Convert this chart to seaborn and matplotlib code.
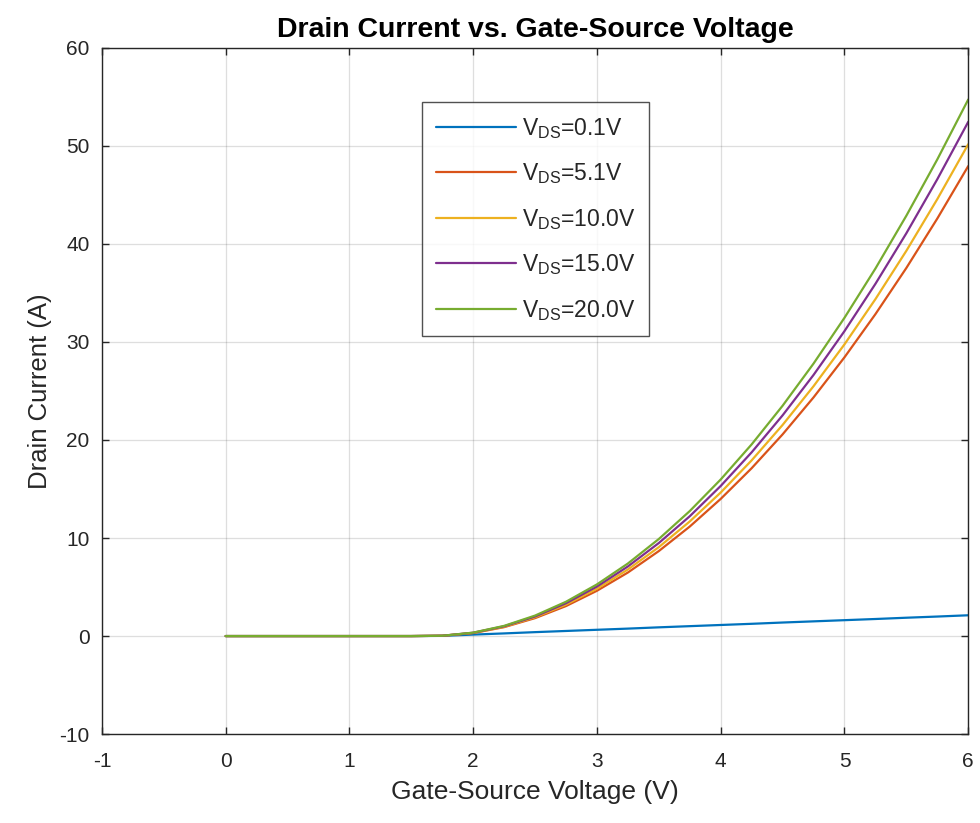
import numpy as np
import pandas as pd
import matplotlib
matplotlib.use("Agg")
import matplotlib.pyplot as plt
import seaborn as sns

# gate-source voltage samples (V)
vgs = [0.0, 0.25, 0.5, 0.75, 1.0, 1.25, 1.5, 1.75, 2.0, 2.25, 2.5, 2.75, 3.0,
       3.25, 3.5, 3.75, 4.0, 4.25, 4.5, 4.75, 5.0, 5.25, 5.5, 5.75, 6.0]

# drain current (A), one list per V_DS
id_01 = [0, 0, 0, 0, 0, 0, 0, 0.02, 0.15, 0.27, 0.40, 0.52, 0.64,
         0.76, 0.89, 1.01, 1.13, 1.25, 1.38, 1.50, 1.62, 1.74, 1.87, 1.99, 2.12]
id_51 = [0, 0, 0, 0, 0, 0, 0, 0.03, 0.31, 0.91, 1.83, 3.06, 4.62,
         6.48, 8.67, 11.17, 13.99, 17.12, 20.57, 24.34, 28.43, 32.83, 37.54, 42.58, 47.93]
id_10 = [0, 0, 0, 0, 0, 0, 0, 0.03, 0.32, 0.95, 1.92, 3.21, 4.83,
         6.79, 9.07, 11.69, 14.64, 17.92, 21.53, 25.48, 29.75, 34.36, 39.29, 44.56, 50.16]
id_15 = [0, 0, 0, 0, 0, 0, 0, 0.03, 0.34, 1.00, 2.00, 3.35, 5.05,
         7.10, 9.49, 12.22, 15.31, 18.74, 22.51, 26.63, 31.10, 35.92, 41.08, 46.59, 52.44]
id_20 = [0, 0, 0, 0, 0, 0, 0, 0.03, 0.35, 1.04, 2.09, 3.50, 5.27,
         7.40, 9.90, 12.75, 15.97, 19.55, 23.49, 27.79, 32.46, 37.48, 42.87, 48.61, 54.72]

series_labels = [r"V$_{\mathrm{DS}}$=0.1V", r"V$_{\mathrm{DS}}$=5.1V",
                 r"V$_{\mathrm{DS}}$=10.0V", r"V$_{\mathrm{DS}}$=15.0V",
                 r"V$_{\mathrm{DS}}$=20.0V"]
colors = ["#0072BD", "#D95319", "#EDB120", "#7E2F8E", "#77AC30"]

frames = []
for lab, ys in zip(series_labels, [id_01, id_51, id_10, id_15, id_20]):
    frames.append(pd.DataFrame({"vgs": vgs, "id": ys, "vds": lab}))
df = pd.concat(frames, ignore_index=True)

sns.set_theme(style="white")
plt.rcParams["font.family"] = ["Liberation Sans", "DejaVu Sans"]
plt.rcParams["mathtext.fontset"] = "custom"
plt.rcParams["mathtext.rm"] = "Liberation Sans"
plt.rcParams["mathtext.it"] = "Liberation Sans"
plt.rcParams["axes.unicode_minus"] = False

fig = plt.figure(figsize=(9.8, 8.23), dpi=100)
ax = fig.add_axes([0.104, 0.108, 0.884, 0.834])

sns.lineplot(data=df, x="vgs", y="id", hue="vds", hue_order=series_labels,
             palette=colors, linewidth=1.6, ax=ax, legend=True)

ax.set_xlim(-1, 6)
ax.set_ylim(-10, 60)
ax.set_xticks(range(-1, 7))
ax.set_yticks(range(-10, 61, 10))
ax.grid(True, color="#262626", alpha=0.15, linewidth=0.9)

dark = "#262626"
for s in ax.spines.values():
    s.set_visible(True)
    s.set_color(dark)
    s.set_linewidth(1.0)
ax.tick_params(direction="in", length=5, width=1, colors=dark, labelsize=15,
               top=True, right=True, left=True, bottom=True)
ax.tick_params(axis="x", pad=13)
ax.tick_params(axis="y", pad=9)

ax.set_xlabel("Gate-Source Voltage (V)", fontsize=19, color=dark, labelpad=6)
ax.set_ylabel("Drain Current (A)", fontsize=18.5, color=dark, labelpad=5)
ax.set_title("Drain Current vs. Gate-Source Voltage", fontsize=20.5,
             fontweight="bold", color="black", pad=8)

leg = ax.legend(loc="upper left", bbox_to_anchor=(0.3695, 0.921),
                borderaxespad=0, fontsize=16.5, frameon=True, fancybox=False,
                handlelength=3.5, handletextpad=0.25, labelspacing=0.9,
                borderpad=0.6)
leg.get_frame().set_edgecolor(dark)
leg.get_frame().set_linewidth(1.0)
for t in leg.get_texts():
    t.set_color(dark)

fig.savefig("out.png", dpi=100)
